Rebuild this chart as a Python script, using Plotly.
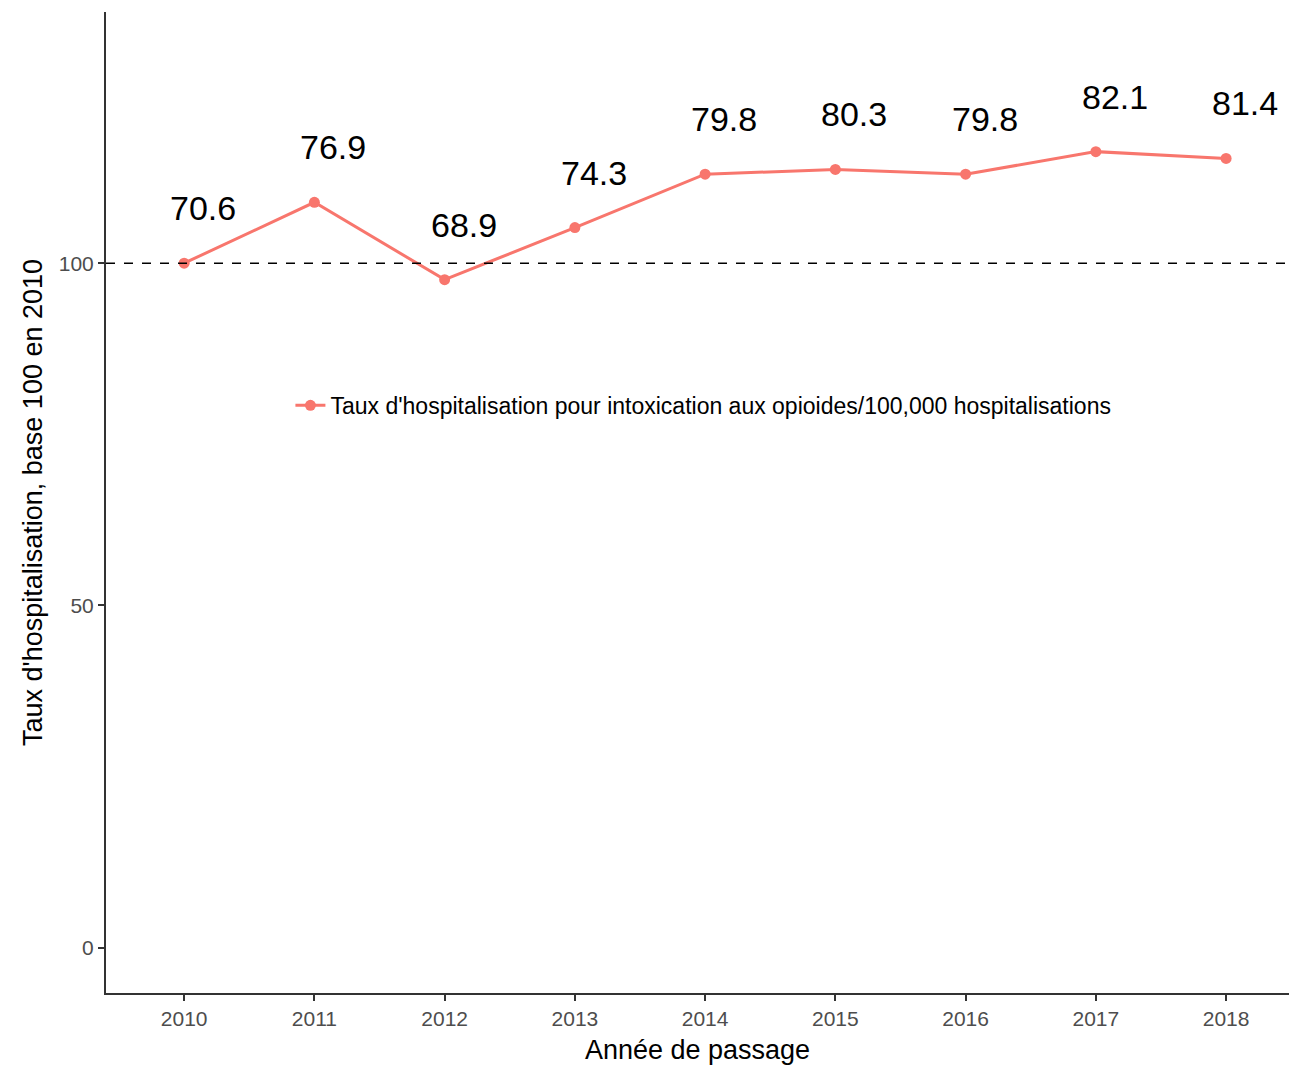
import plotly.graph_objects as go

years = [2010, 2011, 2012, 2013, 2014, 2015, 2016, 2017, 2018]
index_values = [100, 108.9, 97.6, 105.2, 113.0, 113.7, 113.0, 116.3, 115.3]
rate_labels = ["70.6", "76.9", "68.9", "74.3", "79.8", "80.3", "79.8", "82.1", "81.4"]
y_ticks = [0, 50, 100]
series_name = "Taux d'hospitalisation pour intoxication aux opioides/100,000 hospitalisations"

FONT = "Liberation Sans, Arial, sans-serif"
RED = "#F8766D"

fig = go.Figure()
fig.add_trace(go.Scatter(
    x=years, y=index_values, mode="lines+markers", name=series_name,
    line=dict(color=RED, width=3), marker=dict(color=RED, size=11),
))

fig.add_hline(y=100, line=dict(color="black", width=1.5, dash="dash"))

for x, y, t in zip(years, index_values, rate_labels):
    fig.add_annotation(x=x, y=y, text=t, showarrow=False, xshift=19, yshift=55,
                       font=dict(family=FONT, size=34, color="black"))

fig.update_layout(
    width=1289, height=1065,
    margin=dict(l=106, r=0, t=12, b=72),
    plot_bgcolor="white", paper_bgcolor="white",
    font=dict(family=FONT),
    showlegend=True,
    legend=dict(x=0.505, y=0.599, xanchor="center", yanchor="middle",
                font=dict(family=FONT, size=23, color="black"),
                bgcolor="rgba(0,0,0,0)"),
)
fig.update_xaxes(
    range=[2009.4, 2018.483], tickvals=years, ticktext=[str(y) for y in years],
    showline=True, linecolor="#333333", linewidth=2, showgrid=False, zeroline=False,
    ticks="outside", ticklen=6, tickcolor="#333333", tickwidth=1.5,
    tickfont=dict(family=FONT, size=21, color="#4d4d4d"),
    title=dict(text="Année de passage", font=dict(family=FONT, size=27, color="black"), standoff=11),
)
fig.update_yaxes(
    range=[-6.62, 136.7], tickvals=y_ticks,
    showline=True, linecolor="#333333", linewidth=2, showgrid=False, zeroline=False,
    ticks="outside", ticklen=6, tickcolor="#333333", tickwidth=1.5,
    tickfont=dict(family=FONT, size=21, color="#4d4d4d"),
    title=dict(text="Taux d'hospitalisation, base 100 en 2010", font=dict(family=FONT, size=27, color="black"), standoff=8),
)

fig.write_html("out.html", config={"displayModeBar": False},
               post_script="document.body.style.margin='0';document.body.style.overflow='hidden';")
